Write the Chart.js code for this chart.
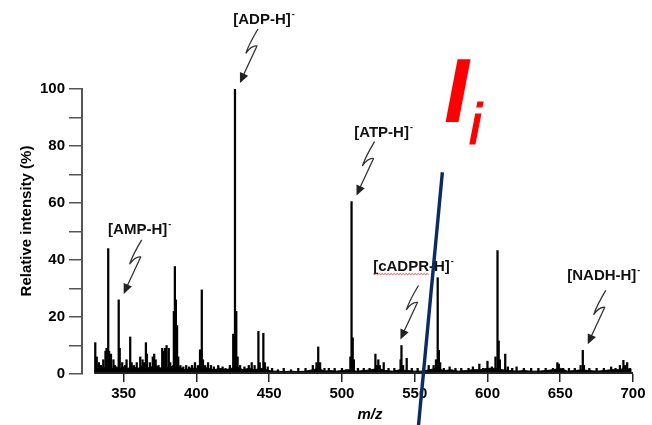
<!DOCTYPE html>
<html>
<head>
<meta charset="utf-8">
<script src="https://cdn.jsdelivr.net/npm/chart.js@4.4.1/dist/chart.umd.min.js"></script>
<style>
  body { margin: 0; background: #fff; }
  canvas { display: block; }
</style>
</head>
<body>
<canvas id="msChart" width="652" height="425"></canvas>
<script>
// peak sticks (m/z, relative intensity %)
const peakMz = [
    330.5, 331.5, 333, 334.5, 336, 337.5, 338.2, 339.4, 340, 341.3, 343, 344,
    346.6, 347.3, 349, 351, 352, 354.5, 355.5, 357, 359, 361.4, 363, 364,
    365.3, 366, 368, 370, 371, 372, 374, 376.5, 377.5, 378.5, 379.5, 381, 382,
    384.5, 385.2, 385.9, 386.7, 387.5, 389, 391, 393, 395, 397, 399, 401,
    402.5, 403.7, 404.5, 406, 408, 410, 412, 415, 418, 420, 423,
    425.3, 426.5, 427.4, 428.3, 430, 433, 436, 438, 440, 442.6, 443.5, 446, 447, 449,
    452, 456, 460, 465, 470, 475, 480, 482.5, 483.7, 485, 488, 491, 495, 500, 503,
    505.8, 506.6, 507.4, 508.2, 511, 515, 519, 523, 524, 525, 526, 528.7, 532, 536,
    540.3, 540.9, 542, 544.5, 548, 552, 556, 559.6, 563,
    564.6, 565.8, 566.6, 567.5, 570, 574, 578, 582, 587, 590, 594.4, 597, 600, 603,
    605.5, 606.9, 607.7, 608.5, 612.2, 614, 617, 620, 625, 630, 635, 640, 645,
    648, 649, 652, 656, 660, 664, 665.5, 666.3, 670, 675, 680, 685, 688, 691,
    693.4, 694.5, 696, 698
];
const peakInt = [
    11, 6, 4, 3, 5, 8, 9, 44, 8, 7, 5, 3,
    26, 9, 4, 3, 5, 13, 4, 3, 4, 6, 5, 4,
    11, 7, 4, 6, 7, 5, 3, 9, 8, 9, 10, 9, 4,
    22, 37.7, 26, 17, 6, 3, 2.5, 3, 2.5, 3, 4, 3,
    8.5, 29.5, 5, 3, 4, 3, 2.5, 3, 2.5, 2, 3,
    14, 100, 22, 6, 3, 2.5, 3, 4, 3, 15, 4, 14.3, 4, 2.5,
    2, 1.5, 2, 1.5, 2, 2, 3, 4, 9.5, 4, 2, 2, 2, 2, 1.5,
    6, 60.5, 12.7, 5, 2, 2, 2, 7, 3, 5, 3, 4, 2, 2,
    5, 10, 3, 5.5, 2, 2, 2, 3, 3,
    5, 33.8, 8.3, 4, 2, 2.5, 2, 2, 2, 2.5, 3.5, 2, 4.5, 2.5,
    6, 43.3, 11.6, 5, 7, 2.5, 2, 2.5, 2, 2, 2, 2, 2,
    4, 3.5, 2, 2, 2, 3, 8.3, 3, 2, 2, 2, 2.5, 2, 3,
    4.8, 3, 4, 2
];

// baseline noise band
const noiseMz = [
    330, 332, 335, 338, 340, 342, 345, 348, 350, 353, 356, 360, 363, 366, 369,
    372, 375, 378, 381, 384, 388, 392, 396, 400, 404, 408, 412, 416, 420, 424,
    428, 432, 436, 440, 444, 448, 452, 456, 460, 465, 470, 475, 480, 484, 488,
    492, 496, 500, 505, 510, 515, 520, 525, 530, 535, 540, 545, 550, 555, 560,
    565, 570, 575, 580, 585, 590, 595, 600, 605, 610, 615, 620, 625, 630, 635,
    640, 645, 650, 655, 660, 665, 670, 675, 680, 685, 690, 695, 699
];
const noiseInt = [
    1, 2, 2.5, 2, 3, 2, 2.5, 2, 2.5, 2, 2.5, 2, 3, 2, 2.5,
    3, 2, 3, 2, 3, 2.5, 1.5, 2, 2, 2.5, 2, 1.5, 2, 1.5, 2,
    2.5, 1.5, 2, 1.5, 2, 1.5, 1, 1, 0.8, 1, 0.8, 1, 1.5, 2, 1,
    1.2, 1, 1.2, 1.5, 1, 1.2, 1.5, 2, 1.2, 1, 1.5, 1.2, 1, 1, 1.5,
    2, 1.2, 1.5, 1, 1.2, 1.5, 1.5, 2, 2, 1.5, 1.2, 1, 1.2, 1, 1,
    1.2, 1.5, 2, 1, 1.2, 1.5, 1.2, 1, 1.2, 1.5, 1.5, 2, 1.5
];

const xTicks = [350, 400, 450, 500, 550, 600, 650, 700];

// labelled peaks
const annotLabels = ['[AMP-H]', '[ADP-H]', '[ATP-H]', '[cADPR-H]', '[NADH-H]'];
const annotMz = [346.6, 426.5, 506.6, 540.9, 665.5];
const annotInt = [26, 100, 60.5, 10, 8.3];

// nudges for the hand-placed callouts (px)
const arrowNudge = [0, 0, 0, -6, 0];
const labelNudgeX = [-7, 1, 4, -10, -7];
const labelNudgeY = [1, 2, 2, -8, -3];

const FONT = "'Liberation Sans', Arial, sans-serif";

// zigzag arrow from above-right down onto the peak
function drawArrow(ctx, tx, ty) {
    ctx.save();
    ctx.strokeStyle = '#333';
    ctx.fillStyle = '#222';
    ctx.lineWidth = 1.3;
    ctx.lineJoin = 'round';
    ctx.beginPath();
    ctx.moveTo(tx + 18, ty - 54);
    ctx.quadraticCurveTo(tx + 9, ty - 39, tx + 6, ty - 30);
    ctx.quadraticCurveTo(tx + 12, ty - 38, tx + 17, ty - 37);
    ctx.lineTo(tx + 3, ty - 7);
    ctx.stroke();
    // head
    const ang = Math.atan2(36, -16);
    const len = 10, hw = 4.5;
    const bx = tx - Math.cos(ang) * len, by = ty - Math.sin(ang) * len;
    ctx.beginPath();
    ctx.moveTo(tx, ty);
    ctx.lineTo(bx + Math.sin(ang) * hw, by - Math.cos(ang) * hw);
    ctx.lineTo(bx - Math.sin(ang) * hw, by + Math.cos(ang) * hw);
    ctx.closePath();
    ctx.fill();
    ctx.restore();
}

const overlayPlugin = {
    id: 'overlay',
    afterDraw(chart) {
        const ctx = chart.ctx;
        const xs = chart.scales.x;
        const ys = chart.scales.y;

        // detached x axis line (330 .. 700)
        ctx.save();
        ctx.strokeStyle = '#222';
        ctx.lineWidth = 2;
        ctx.beginPath();
        ctx.moveTo(xs.getPixelForValue(330), ys.getPixelForValue(0) - 1);
        ctx.lineTo(xs.getPixelForValue(700), ys.getPixelForValue(0) - 1);
        ctx.stroke();

        // axis titles
        ctx.fillStyle = '#000';
        ctx.textAlign = 'center';
        ctx.textBaseline = 'middle';
        ctx.font = 'italic bold 15px ' + FONT;
        ctx.fillText('m/z', 370, 415);
        ctx.save();
        ctx.translate(27, 221);
        ctx.rotate(-Math.PI / 2);
        ctx.font = 'bold 15px ' + FONT;
        ctx.fillText('Relative intensity (%)', 0, 0);
        ctx.restore();

        // peak labels with arrows
        annotLabels.forEach((lab, i) => {
            const tx = xs.getPixelForValue(annotMz[i]) + 5 + arrowNudge[i];
            const ty = ys.getPixelForValue(annotInt[i]) - 6;
            drawArrow(ctx, tx, ty);
            const cx = tx + 21 + labelNudgeX[i];
            const base = ty - 61 + labelNudgeY[i];
            ctx.font = 'bold 15px ' + FONT;
            ctx.textAlign = 'center';
            ctx.textBaseline = 'alphabetic';
            ctx.fillStyle = '#111';
            ctx.fillText(lab, cx, base);
            const w = ctx.measureText(lab).width;
            ctx.font = 'bold 9px ' + FONT;
            ctx.textAlign = 'left';
            ctx.fillText('-', cx + w / 2 + 1, base - 7);
            if (lab === '[cADPR-H]') {
                ctx.font = 'bold 15px ' + FONT;
                const w2 = ctx.measureText('[cADPR').width;
                const x0 = cx - w / 2;
                ctx.strokeStyle = '#e02020';
                ctx.lineWidth = 0.8;
                ctx.beginPath();
                for (let k = 0; k <= w2; k += 1.5) {
                    const yy = base + 3 + ((k / 1.5) % 2 ? 1.2 : 0);
                    if (k === 0) ctx.moveTo(x0 + k, yy); else ctx.lineTo(x0 + k, yy);
                }
                ctx.stroke();
            }
        });

        // red I_i
        ctx.fillStyle = '#ff0000';
        ctx.strokeStyle = '#ff0000';
        ctx.textAlign = 'left';
        ctx.textBaseline = 'alphabetic';
        ctx.font = 'italic bold 90px ' + FONT;
        ctx.fillText('I', 444, 122);
        ctx.font = 'italic 57px ' + FONT;
        ctx.lineWidth = 1.2;
        ctx.fillText('i', 469, 144);
        ctx.strokeText('i', 469, 144);

        // navy slanted line
        ctx.strokeStyle = '#0b2a66';
        ctx.lineWidth = 3.4;
        ctx.beginPath();
        ctx.moveTo(xs.getPixelForValue(569), ys.getPixelForValue(70.8));
        ctx.lineTo(xs.getPixelForValue(552.5), ys.getPixelForValue(-18.6));
        ctx.stroke();
        ctx.restore();
    }
};

const ctx = document.getElementById('msChart').getContext('2d');

new Chart(ctx, {
    type: 'bar',
    data: {
        datasets: [
            {
                type: 'bar',
                data: peakMz.map((x, i) => ({ x: x, y: peakInt[i] })),
                backgroundColor: '#000',
                borderWidth: 0,
                barThickness: 1.6,
                order: 1
            },
            {
                type: 'line',
                data: noiseMz.map((x, i) => ({ x: x, y: noiseInt[i] })),
                borderColor: '#000',
                borderWidth: 1,
                backgroundColor: '#000',
                fill: 'origin',
                pointRadius: 0,
                tension: 0,
                order: 2
            }
        ]
    },
    options: {
        responsive: false,
        animation: false,
        events: [],
        layout: { padding: { left: 36, right: 19, top: 89, bottom: 19 } },
        plugins: {
            legend: { display: false },
            tooltip: { enabled: false }
        },
        scales: {
            x: {
                type: 'linear',
                min: 321.4,
                max: 700,
                offset: false,
                afterBuildTicks: (scale) => {
                    scale.ticks = xTicks.map(v => ({ value: v }));
                },
                grid: { offset: false, drawOnChartArea: false, drawTicks: true, tickLength: 8, color: '#222', lineWidth: 1.5 },
                border: { display: false },
                ticks: {
                    color: '#000',
                    padding: 3,
                    maxRotation: 0,
                    font: { family: FONT, size: 15, weight: 'bold' }
                }
            },
            y: {
                min: 0,
                max: 100,
                grid: { drawOnChartArea: false, drawTicks: true, tickLength: 13, color: '#555', lineWidth: 1.5 },
                border: { display: true, color: '#555', width: 2 },
                ticks: {
                    stepSize: 10,
                    color: '#000',
                    padding: 4,
                    font: { family: FONT, size: 15, weight: 'bold' },
                    callback: function (value) {
                        return value % 20 === 0 ? value : '';
                    }
                }
            }
        }
    },
    plugins: [overlayPlugin]
});
</script>
</body>
</html>
